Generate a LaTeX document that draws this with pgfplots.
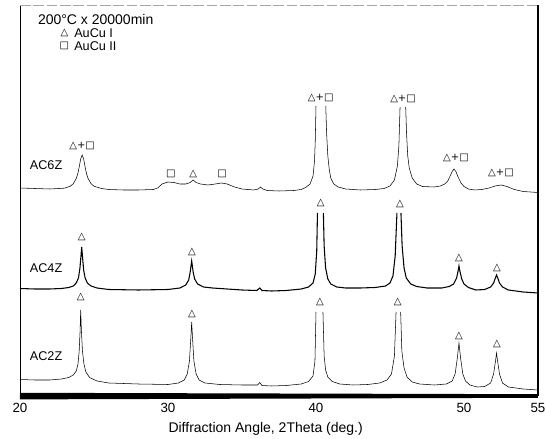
\documentclass[border=0pt]{standalone}
\usepackage{fontspec}
\setmainfont{Liberation Sans}
\newfontfamily\symfont{DejaVu Sans}
\usepackage{pgfplots}
\pgfplotsset{compat=1.18}
\newcommand{\tri}{{\symfont\fontsize{7.5}{8}\selectfont △}}
\newcommand{\sq}{{\symfont\fontsize{7.5}{8}\selectfont □}}
\newcommand{\both}{{\symfont\fontsize{7.5}{8}\selectfont △+□}}
\begin{document}
\begin{tikzpicture}
\path[use as bounding box] (-15pt,-32.25pt) rectangle (395.25pt,297pt);
\begin{axis}[
  at={(0pt,0pt)}, anchor=south west,
  scale only axis, width=388.5pt, height=293.25pt,
  xmin=20, xmax=55, ymin=0, ymax=391,
  axis line style={draw=none},
  xtick={20,30,40,50,55}, ytick=\empty,
  major tick length=0pt,
  /pgf/number format/assume math mode=true,
  xticklabel style={font=\fontsize{10}{12}\selectfont, yshift=-2pt},
  xlabel={Diffraction Angle, 2Theta (deg.)},
  xlabel style={font=\fontsize{10.5}{12}\selectfont, xshift=-10pt},
  clip=false, unbounded coords=jump,
  cycle list={{black, line width=0.8pt, mark=none}},
]
% frame
\draw[line width=0.6pt] (rel axis cs:0,0) -- (rel axis cs:0,1);
\draw[gray!70, line width=0.5pt, dash pattern=on 8pt off 2pt] (rel axis cs:0,1) -- (rel axis cs:1,1);
\draw[line width=0.9pt] (rel axis cs:1,0) -- (rel axis cs:1,1);
\fill (axis cs:20,3.2) -- (axis cs:55,1.8) -- (axis cs:55,-1.8) -- (axis cs:20,-3.4) -- cycle;

% AC6Z
\addplot coordinates {
(20,208)(21,207.5)(22,207)(23,207.8)(23.4,209.8)(23.6,212.3)(23.8,217.5)(23.9,222)(24.0,229)(24.1,237)(24.2,241)
(24.3,237)(24.4,229)(24.5,222)(24.6,217.5)(24.8,212.3)(25.0,209.8)(25.5,207.5)(26,206.5)(27,206)(28,206)(29,206.5)
(29.3,208)(29.6,212)(30.0,214)(30.4,213.5)(30.8,212)(31.2,212)(31.5,213.5)(31.7,216)(31.9,213.5)(32.2,212)(32.7,211)
(33.2,212)(33.6,213)(34.0,212)(34.5,209)(35,207)(35.8,206)(36.1,207)(36.25,209)(36.4,207)(36.7,205.5)(37.5,205)(38.5,205.5)
(39.0,206.5)(39.3,208.5)(39.6,212)(39.8,220)(39.9,235)(39.95,255)(40.0,290)(40.33,nan)
(40.66,290)(40.72,262)(40.8,240)(40.9,226)(41.0,218)(41.2,212)(41.5,209)(42,207)(43,206)(44,206.5)(44.6,207.5)
(45.0,210)(45.3,216)(45.5,230)(45.6,250)(45.68,289)(45.87,nan)
(46.06,289)(46.12,262)(46.2,240)(46.3,228)(46.5,218)(46.8,212)(47.2,209.5)(48,209)(48.4,210)
(48.7,212)(48.9,215)(49.1,221)(49.2,224.5)(49.32,227)(49.45,224.5)(49.6,219)(49.8,213)(50.0,209.5)(50.3,207)(50.7,206)
(51.2,206.5)(51.7,208)(52.1,210)(52.5,211)(52.9,209.5)(53.4,206.5)(54,204.5)(55,203.5)
};

% AC4Z
\addplot coordinates {
(20,107.5)(21,107)(22,107)(22.8,107.5)(23.3,108.5)(23.6,110)(23.8,113)(23.95,118)(24.05,128)(24.12,140)(24.17,149)
(24.22,140)(24.3,126)(24.4,118)(24.55,113)(24.8,110)(25.2,108)(26,106.5)(28,106)(30,106.5)(30.8,108)(31.2,111)
(31.4,116)(31.5,124)(31.6,135)(31.7,124)(31.8,117)(32.0,112)(32.4,109)(33,108)(34,107)(35,106)(36,105.5)(36.2,108)
(36.35,105.5)(37,105)(38,105.5)(39,107)(39.5,109)(39.8,113)(39.95,122)(40.05,145)(40.1,183)(40.3,nan)
(40.5,183)(40.55,150)(40.65,128)(40.8,117)(41,112)(41.4,109)(42,108)(43,108)(44,108.5)(44.7,110)(45.0,113)
(45.2,120)(45.35,140)(45.47,183)(45.6,nan)
(45.74,183)(45.82,150)(45.95,128)(46.1,118)(46.4,112)(46.8,109.5)(47.5,108)(48.5,108)(49,109.5)(49.3,112)(49.5,118)
(49.6,125)(49.66,130)(49.72,125)(49.85,117)(50.0,112)(50.3,108.5)(50.8,106)(51.4,106.5)(51.8,109)(52.0,113)
(52.12,118)(52.2,121)(52.28,118)(52.4,113)(52.6,109)(53,106)(54,104)(55,103)
};

% AC2Z
\addplot coordinates {
(20,16.5)(21,16)(22,16)(22.8,17)(23.3,18.5)(23.6,21)(23.8,25)(23.92,32)(24.0,45)(24.06,65)(24.1,86)(24.15,65)
(24.22,45)(24.32,32)(24.45,24)(24.7,18.5)(25.2,15)(26,13)(28,12)(30,11.5)(30.7,13)(31.1,16)(31.3,22)(31.45,35)
(31.55,60)(31.6,74)(31.65,60)(31.75,35)(31.9,22)(32.1,16)(32.5,13)(33.5,11.5)(35,11)(36.05,11)(36.2,13.5)
(36.35,10.5)(37,10)(38,10.5)(39,12)(39.5,14.5)(39.8,20)(39.93,35)(40.0,84)(40.25,nan)
(40.47,84)(40.55,40)(40.65,26)(40.8,19)(41.1,14.5)(41.6,12)(42.5,11)(43.5,11.5)(44.3,13)(44.8,16)(45.1,22)
(45.3,40)(45.41,84)(45.55,nan)
(45.72,84)(45.8,45)(45.95,28)(46.15,19)(46.5,14)(47,12)(48,11)(48.8,12)(49.2,15)(49.4,22)(49.55,38)(49.66,53)
(49.77,38)(49.92,22)(50.1,15)(50.4,11)(50.9,9)(51.4,9.5)(51.8,13)(52.0,22)(52.13,35)(52.2,43)(52.27,35)(52.4,22)
(52.6,13)(53,9)(54,7)(55,6)
};

% sample names
\node[anchor=west, font=\fontsize{9.5}{11}\selectfont] at (axis cs:20.35,231) {AC6Z};
\node[anchor=west, font=\fontsize{9.5}{11}\selectfont] at (axis cs:20.35,128) {AC4Z};
\node[anchor=west, font=\fontsize{9.5}{11}\selectfont] at (axis cs:20.35,40) {AC2Z};

% heat treatment and phase key
\node[anchor=west, font=\fontsize{10.5}{12}\selectfont] at (axis cs:20.9,376) {200°C x 20000min};
\node[anchor=center] at (axis cs:23.0,363) {\tri};
\node[anchor=west, font=\fontsize{9.5}{11}\selectfont] at (axis cs:23.35,363) {AuCu I};
\node[anchor=center] at (axis cs:23.0,350) {\sq};
\node[anchor=west, font=\fontsize{9.5}{11}\selectfont] at (axis cs:23.35,350) {AuCu II};

% peak assignments, AC6Z
\node at (axis cs:24.2,250) {\both};
\node at (axis cs:30.2,222) {\sq};
\node at (axis cs:31.7,222) {\tri};
\node at (axis cs:33.65,222) {\sq};
\node at (axis cs:40.32,298) {\both};
\node at (axis cs:45.88,297) {\both};
\node at (axis cs:49.46,238) {\both};
\node at (axis cs:52.5,223) {\both};

% peak assignments, AC4Z
\node at (axis cs:24.17,159) {\tri};
\node at (axis cs:31.62,144) {\tri};
\node at (axis cs:40.32,193) {\tri};
\node at (axis cs:45.68,192) {\tri};
\node at (axis cs:49.66,138) {\tri};
\node at (axis cs:52.23,128) {\tri};

% peak assignments, AC2Z
\node at (axis cs:24.1,99) {\tri};
\node at (axis cs:31.62,82) {\tri};
\node at (axis cs:40.27,94) {\tri};
\node at (axis cs:45.52,94) {\tri};
\node at (axis cs:49.66,60) {\tri};
\node at (axis cs:52.23,52) {\tri};
\end{axis}
\end{tikzpicture}
\end{document}
